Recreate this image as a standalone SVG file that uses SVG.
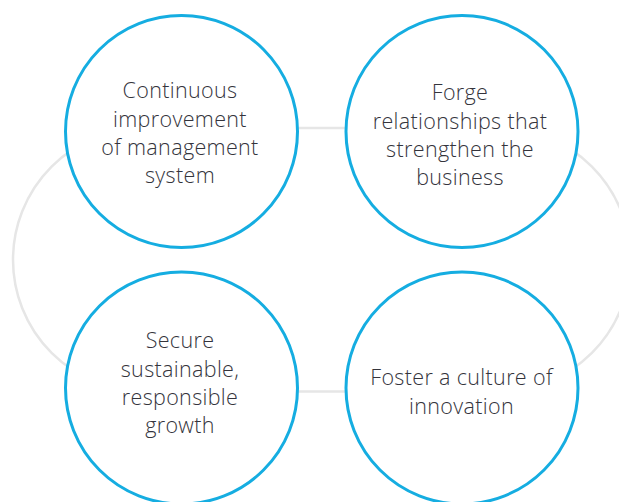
<svg xmlns="http://www.w3.org/2000/svg" width="619" height="502" viewBox="0 0 619 502">
<style>
.node{fill:#fff;stroke:#15ADE1;stroke-width:3}
.lbl{font-family:"Open Sans","Liberation Sans",sans-serif;font-weight:300;font-size:21.5px;letter-spacing:0.35px;fill:#34343c;text-anchor:middle}
.ring{fill:none;stroke:#e6e6e6;stroke-width:2.5}
</style>
<rect width="619" height="502" fill="#fff"/>
<g id="connectors">
<rect class="ring" x="13" y="128" width="617.5" height="263.5" rx="131.75" ry="131.75"/>
</g>
<g id="n1">
<circle class="node" cx="181.5" cy="131.5" r="116"/>
<text class="lbl"><tspan x="180" y="98">Continuous</tspan><tspan x="180" y="126.5">improvement</tspan><tspan x="180" y="155">of management</tspan><tspan x="180" y="183">system</tspan></text>
</g>
<g id="n2">
<circle class="node" cx="462" cy="131.5" r="116"/>
<text class="lbl"><tspan x="460" y="100">Forge</tspan><tspan x="460" y="128.5">relationships that</tspan><tspan x="460" y="157">strengthen the</tspan><tspan x="460" y="185">business</tspan></text>
</g>
<g id="n3">
<circle class="node" cx="181.5" cy="388" r="116"/>
<text class="lbl"><tspan x="180" y="348">Secure</tspan><tspan x="180" y="376.5">sustainable,</tspan><tspan x="180" y="405">responsible</tspan><tspan x="180" y="433">growth</tspan></text>
</g>
<g id="n4">
<circle class="node" cx="462" cy="388" r="116"/>
<text class="lbl"><tspan x="461.5" y="385">Foster a culture of</tspan><tspan x="461.5" y="413.5">innovation</tspan></text>
</g>
</svg>
